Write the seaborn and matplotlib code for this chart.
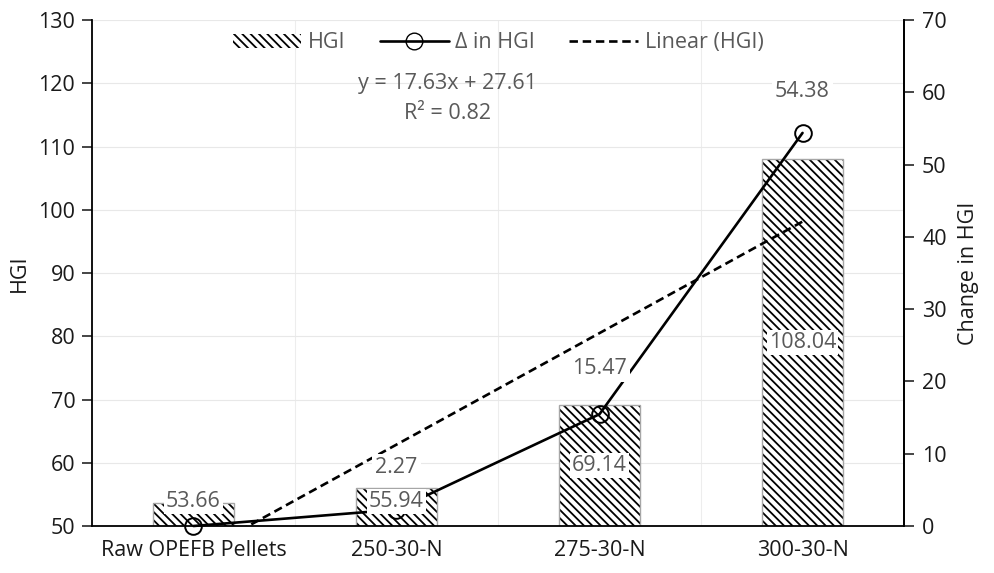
import numpy as np
import pandas as pd
import seaborn as sns
import matplotlib.pyplot as plt
from matplotlib.lines import Line2D
from matplotlib.patches import Patch

# data
samples = ["Raw OPEFB Pellets", "250-30-N", "275-30-N", "300-30-N"]
hgi = [53.66, 55.94, 69.14, 108.04]
delta_hgi = [0, 2.27, 15.47, 54.38]
fit_slope = 17.63
fit_intercept = 27.61
fit_r2 = 0.82

df = pd.DataFrame({"Sample": samples, "HGI": hgi, "Delta": delta_hgi})

sns.set_style("white")
plt.rcParams["font.family"] = ["Open Sans", "DejaVu Sans"]
plt.rcParams["hatch.linewidth"] = 1.3

FS = 15.5
GREY = "#595959"
HATCH = "\\\\\\\\"

fig = plt.figure(figsize=(9.94, 5.73), dpi=100)
ax = fig.add_axes([0.0925, 0.0820, 0.8170, 0.8831])

# hatched fill (black hatch) then a thin grey outline on top
sns.barplot(data=df, x="Sample", y="HGI", ax=ax, color="white", width=0.4,
            edgecolor="black", linewidth=0, zorder=2)
for p in ax.patches:
    p.set_hatch(HATCH)
sns.barplot(data=df, x="Sample", y="HGI", ax=ax, fill=False, width=0.4,
            edgecolor="#a6a6a6", linewidth=1.0, zorder=2)

ax.set_ylim(50, 130)
ax.set_xlim(-0.5, 3.5)
ax.set_yticks(np.arange(50, 131, 10))
ax.set_xticks(range(len(samples)))
ax.set_xticks([-0.5, 0.5, 1.5, 2.5, 3.5], minor=True)
ax.tick_params(axis="x", which="major", length=0, labelsize=FS, pad=10, labelcolor="#1a1a1a")
ax.tick_params(axis="x", which="minor", length=7, width=1.2, direction="out", color="black")
ax.tick_params(axis="y", length=7, width=1.2, direction="out", labelsize=FS, left=True,
               labelcolor="#1a1a1a", pad=5)
ax.set_xlabel("")
ax.set_ylabel("HGI", fontsize=FS, color="#1a1a1a", labelpad=6)
ax.grid(axis="y", color="#e8e8e8", linewidth=0.8, zorder=0)
ax.grid(axis="x", which="minor", color="#ededed", linewidth=0.8, zorder=0)
ax.set_axisbelow(True)
for s in ["left", "bottom", "right"]:
    ax.spines[s].set_color("black")
    ax.spines[s].set_linewidth(1.3)
ax.spines["top"].set_visible(False)

# linear trend on HGI (x = 1..4 in spreadsheet terms)
xpos = np.arange(len(samples))
trend = fit_slope * (xpos + 1) + fit_intercept
ax.plot(xpos, trend, color="black", linestyle=(0, (3.2, 1.8)), linewidth=1.9, zorder=3)

ax2 = ax.twinx()
sns.lineplot(data=df, x="Sample", y="Delta", ax=ax2, color="black", linewidth=1.9,
             marker="o", markersize=12, markerfacecolor="none",
             markeredgecolor="black", markeredgewidth=1.4, sort=False, zorder=4,
             clip_on=False)
ax2.set_ylim(0, 70)
ax2.set_yticks(np.arange(0, 71, 10))
ax2.set_ylabel("Change in HGI", fontsize=FS, color="#1a1a1a", labelpad=8)
ax2.tick_params(axis="y", length=7, width=1.2, direction="out", labelsize=FS, right=True,
                labelcolor="#1a1a1a", pad=6)
ax2.spines["top"].set_visible(False)
ax2.spines["right"].set_color("black")
ax2.spines["right"].set_linewidth(1.3)
for s in ["left", "bottom"]:
    ax2.spines[s].set_visible(False)
ax2.grid(False)

# HGI labels in the bars (drawn above the line); short bars get a lift
lifts = [2.0, 0.9, 0, 0]
for i, v in enumerate(hgi):
    ax2.text(i, (50 + v) / 2 + lifts[i], f"{v:.2f}", transform=ax.transData,
             ha="center", va="center", fontsize=FS, color=GREY, zorder=6,
             bbox=dict(facecolor="white", edgecolor="none", pad=1.5))

for i, v in enumerate(delta_hgi):
    if i == 0:
        continue
    ax2.annotate(f"{v:.2f}", (i, v), xytext=(0, 30 if i != 2 else 33),
                 textcoords="offset points", ha="center", va="center", fontsize=FS,
                 color=GREY, zorder=6,
                 bbox=dict(facecolor="white", edgecolor="none", pad=2.5))

# trendline equation
ax2.text(0.438, 0.875, f"y = {fit_slope}x + {fit_intercept}", transform=ax.transAxes,
         ha="center", va="center", fontsize=FS, color=GREY)
ax2.text(0.438, 0.815, f"R² = {fit_r2}", transform=ax.transAxes,
         ha="center", va="center", fontsize=FS, color=GREY)

handles = [
    Patch(facecolor="white", edgecolor="black", linewidth=0, hatch=HATCH, label="HGI"),
    Line2D([], [], color="black", linewidth=1.9, marker="o", markersize=12,
           markerfacecolor="none", label="Δ in HGI"),
    Line2D([], [], color="black", linestyle=(0, (3.2, 1.8)), linewidth=1.9,
           label="Linear (HGI)"),
]
ax2.legend(handles=handles, loc="center", bbox_to_anchor=(0.5, 0.955), ncol=3,
           frameon=False, fontsize=FS, labelcolor=GREY, handlelength=3.2,
           handleheight=0.6, columnspacing=1.6, handletextpad=0.3)

fig.savefig("out.png", dpi=100)
